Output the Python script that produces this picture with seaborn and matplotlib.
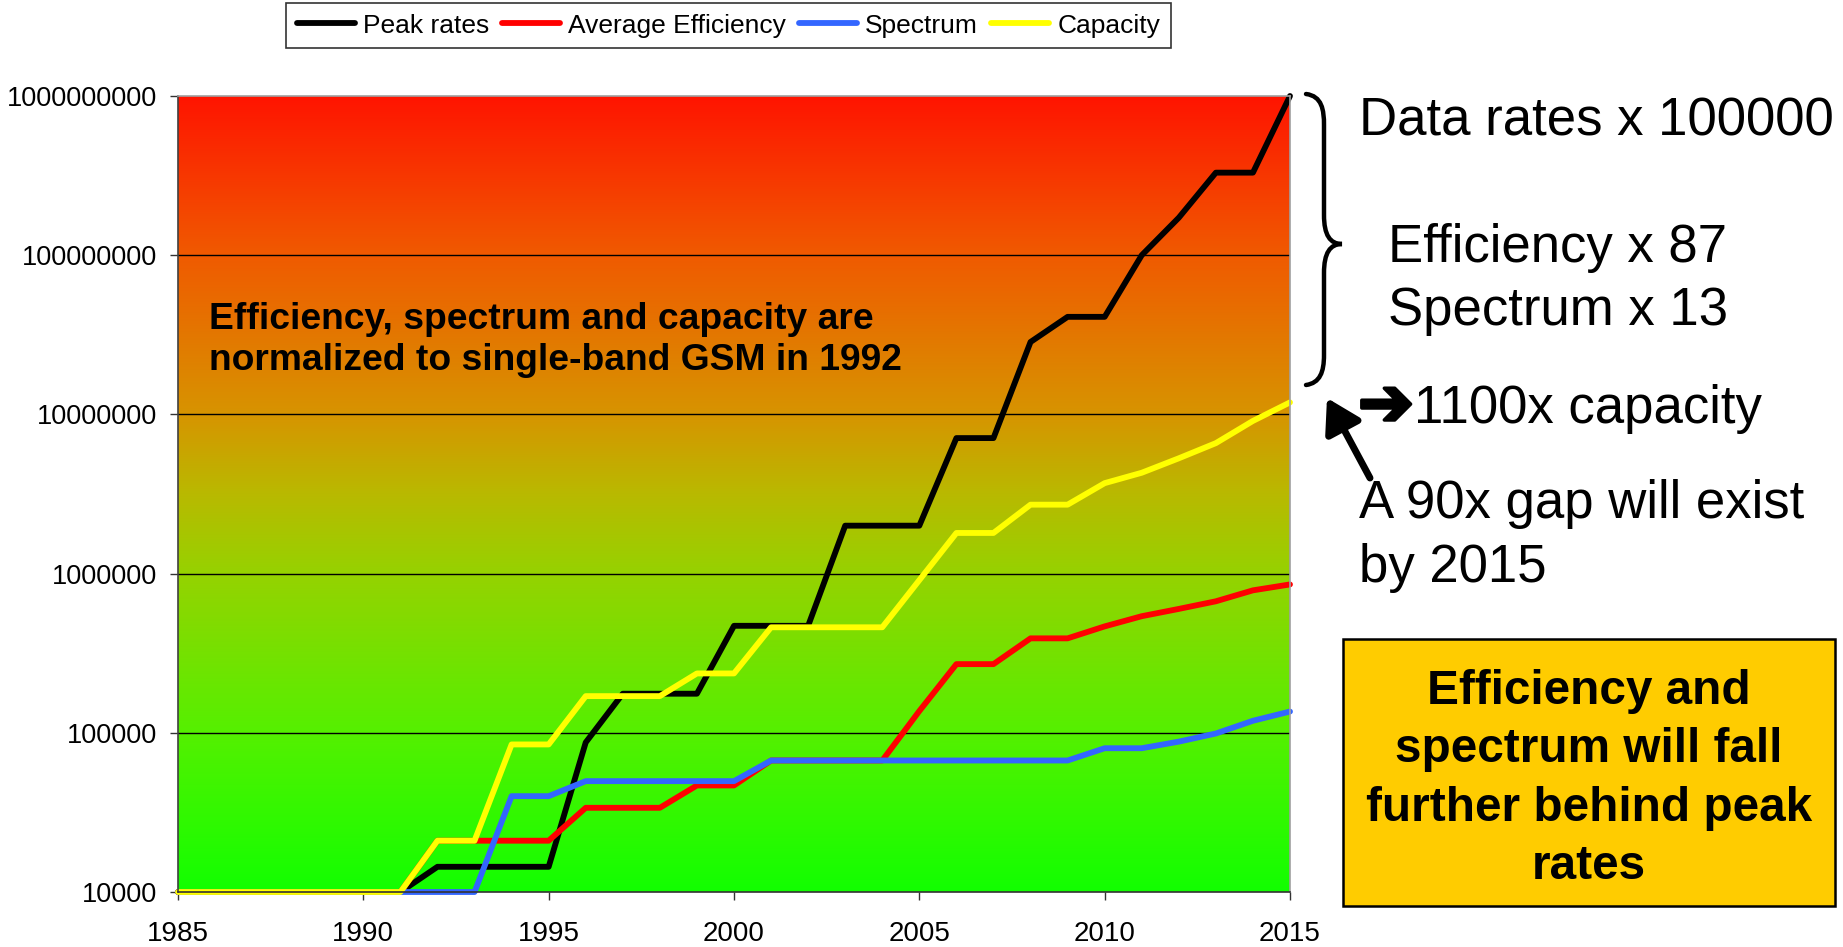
import numpy as np
import pandas as pd
import matplotlib
matplotlib.use("Agg")
import matplotlib.pyplot as plt
import matplotlib.patheffects as pe
import seaborn as sns
from matplotlib.path import Path
from matplotlib.patches import PathPatch, Rectangle, FancyArrowPatch, ArrowStyle
from matplotlib.ticker import FixedLocator, FixedFormatter, NullLocator

# ---------------- data ----------------
years = [1985, 1986, 1987, 1988, 1989, 1990, 1991, 1992, 1993, 1994, 1995,
         1996, 1997, 1998, 1999, 2000, 2001, 2002, 2003, 2004, 2005,
         2006, 2007, 2008, 2009, 2010, 2011, 2012, 2013, 2014, 2015]

peak_rates = [10000, 10000, 10000, 10000, 10000, 10000, 10000,
              14400, 14400, 14400, 14400,
              87000, 176000, 176000, 176000,
              470000, 470000, 470000,
              2000000, 2000000, 2000000,
              7100000, 7100000, 28500000,
              41000000, 41000000, 100000000, 172000000,
              330000000, 330000000, 1000000000]

average_efficiency = [10000, 10000, 10000, 10000, 10000, 10000, 10000,
                      21000, 21000, 21000, 21000,
                      33800, 33800, 33800, 46700, 46700,
                      67000, 67000, 67000, 67000, 137000,
                      270000, 270000, 392000, 392000,
                      466000, 540000, 600000, 670000, 785000, 855000]

spectrum = [10000, 10000, 10000, 10000, 10000, 10000, 10000, 10000, 10000,
            40000, 40000,
            49700, 49700, 49700, 49700, 49700,
            67000, 67000, 67000, 67000, 67000, 67000, 67000, 67000, 67000,
            80000, 80000, 88000, 99000, 119000, 136000]

capacity = [10000, 10000, 10000, 10000, 10000, 10000, 10000,
            21000, 21000, 84500, 84500,
            170000, 170000, 170000, 236000, 236000,
            460000, 460000, 460000, 460000, 910000,
            1800000, 1800000, 2710000, 2710000,
            3700000, 4300000, 5300000, 6600000, 9100000, 11900000]

series_names = ["Peak rates", "Average Efficiency", "Spectrum", "Capacity"]
series_colors = ["#000000", "#FF0000", "#3366FF", "#FFFF00"]

x_ticks = [1985, 1990, 1995, 2000, 2005, 2010, 2015]
y_ticks = [10000, 100000, 1000000, 10000000, 100000000, 1000000000]
y_tick_labels = ["10000", "100000", "1000000", "10000000", "100000000", "1000000000"]

# ---------------- style ----------------
sns.set_theme(style="white")
plt.rcParams["font.family"] = ["Liberation Sans", "DejaVu Sans"]
plt.rcParams["text.color"] = "black"
plt.rcParams["axes.labelcolor"] = "black"
plt.rcParams["xtick.color"] = "black"
plt.rcParams["ytick.color"] = "black"

W, H = 1843, 947
fig = plt.figure(figsize=(W / 100, H / 100), dpi=100)

def fx(px):
    return px / W

def fy(py):
    return 1 - py / H

left, right, top, bottom = 178, 1290, 96, 892
pos = [fx(left), fy(bottom), fx(right) - fx(left), fy(top) - fy(bottom)]

# gradient background in its own axes
bg = fig.add_axes(pos, zorder=0)
stops = [(0.00, (18, 255, 0)), (0.20, (85, 240, 0)), (0.40, (150, 210, 0)),
         (0.50, (185, 185, 0)), (0.60, (215, 148, 0)), (0.80, (240, 90, 0)),
         (1.00, (255, 20, 0))]
n = 400
t = np.linspace(0, 1, n)
sp = np.array([s[0] for s in stops])
cols = np.array([s[1] for s in stops], dtype=float) / 255
grad = np.stack([np.interp(t, sp, cols[:, k]) for k in range(3)], axis=-1)
grad = grad[::-1][:, None, :]
bg.imshow(grad, aspect="auto", extent=[0, 1, 0, 1], interpolation="bilinear")
bg.axis("off")

ax = fig.add_axes(pos, zorder=1)
ax.set_facecolor("none")

df = pd.DataFrame({
    "year": years * 4,
    "value": peak_rates + average_efficiency + spectrum + capacity,
    "series": sum([[nm] * len(years) for nm in series_names], []),
})

sns.lineplot(data=df, x="year", y="value", hue="series", hue_order=series_names,
             palette=dict(zip(series_names, series_colors)), linewidth=4.2,
             estimator=None, legend=False, ax=ax)
for ln in ax.lines:
    ln.set_clip_on(False)
    ln.set_solid_joinstyle("round")

ax.set_yscale("log")
ax.set_xlim(1985, 2015)
ax.set_ylim(10000, 1000000000)
ax.yaxis.set_major_locator(FixedLocator(y_ticks))
ax.yaxis.set_major_formatter(FixedFormatter(y_tick_labels))
ax.yaxis.set_minor_locator(NullLocator())
ax.set_xticks(x_ticks)
ax.set_xticklabels([str(v) for v in x_ticks])
ax.set_xlabel("")
ax.set_ylabel("")

ax.grid(False)
for yv in y_ticks[1:-1]:
    ax.axhline(yv, color="black", lw=1.0, zorder=1.5)

ax.tick_params(axis="y", which="major", direction="out", length=6, width=1,
               color="#333333", labelsize=19.5, pad=9, left=True, labelcolor="black")
ax.tick_params(axis="x", which="major", direction="out", length=6, width=1,
               color="#333333", labelsize=20, pad=15, bottom=True, labelcolor="black")
ax.spines["left"].set_color("#404040")
ax.spines["bottom"].set_color("#333333")
ax.spines["right"].set_color("#A0A0A0")
ax.spines["top"].set_color("#A0A0A0")
for s in ax.spines.values():
    s.set_linewidth(1.2)

# legend
leg = fig.legend(ax.lines, series_names, loc="upper center",
                 bbox_to_anchor=(fx((287 + 1170) / 2), fy(3)), ncol=4,
                 frameon=True, fancybox=False, edgecolor="black", fontsize=19,
                 handlelength=2.2, handletextpad=0.3, columnspacing=0.5,
                 borderpad=0.4, borderaxespad=0)
leg.get_frame().set_linewidth(1.2)
leg.get_frame().set_facecolor("white")
for txt in leg.get_texts():
    txt.set_color("black")

# in-chart note
fig.text(fx(209), fy(340), "Efficiency, spectrum and capacity are\nnormalized to single-band GSM in 1992",
         fontsize=26.8, fontweight="bold", ha="left", va="center", linespacing=1.2,
         color="black", zorder=5)

# curly brace
verts = [(1306, 94), (1322, 96), (1324, 110), (1324, 125),
         (1324, 215),
         (1324, 235), (1330, 244), (1342, 244),
         (1330, 244), (1324, 253), (1324, 273),
         (1324, 355),
         (1324, 372), (1320, 383), (1306, 385)]
codes = [Path.MOVETO, Path.CURVE4, Path.CURVE4, Path.CURVE4,
         Path.LINETO,
         Path.CURVE4, Path.CURVE4, Path.CURVE4,
         Path.CURVE4, Path.CURVE4, Path.CURVE4,
         Path.LINETO,
         Path.CURVE4, Path.CURVE4, Path.CURVE4]
brace = Path([(fx(a), fy(b)) for a, b in verts], codes)
fig.patches.append(PathPatch(brace, transform=fig.transFigure, fill=False,
                             edgecolor="black", lw=3.2, capstyle="round"))

# right-hand annotations
big = 38
fig.text(fx(1359), fy(136), "Data rates x 100000", fontsize=big, ha="left", va="baseline", color="black")
fig.text(fx(1388), fy(262), "Efficiency x 87", fontsize=big, ha="left", va="baseline", color="black")
fig.text(fx(1388), fy(325), "Spectrum x 13", fontsize=big, ha="left", va="baseline", color="black")
fig.text(fx(1358), fy(425), "\u2794", fontsize=48, fontweight="bold", family=["DejaVu Sans"],
         ha="left", va="baseline", color="black",
         path_effects=[pe.withStroke(linewidth=2.5, foreground="black")])
fig.text(fx(1414), fy(423), "1100x capacity", fontsize=big, ha="left", va="baseline", color="black")
fig.text(fx(1359), fy(518), "A 90x gap will exist", fontsize=big, ha="left", va="baseline", color="black")
fig.text(fx(1359), fy(582), "by 2015", fontsize=big, ha="left", va="baseline", color="black")

arrow = FancyArrowPatch((fx(1370), fy(478)), (fx(1327), fy(398)),
                        transform=fig.transFigure,
                        arrowstyle=ArrowStyle("-|>", head_length=1.0, head_width=0.6),
                        mutation_scale=20, lw=5, color="black",
                        shrinkA=0, shrinkB=0)
fig.patches.append(arrow)

# yellow box
box = Rectangle((fx(1343), fy(906)), fx(1835) - fx(1343), fy(639) - fy(906),
                transform=fig.transFigure, facecolor="#FFCC00", edgecolor="black", lw=1.8)
fig.patches.append(box)
fig.text(fx(1589), fy(779), "Efficiency and\nspectrum will fall\nfurther behind peak\nrates",
         fontsize=34.4, fontweight="bold", ha="center", va="center", linespacing=1.38,
         color="black")

fig.savefig("out.png", dpi=100)
